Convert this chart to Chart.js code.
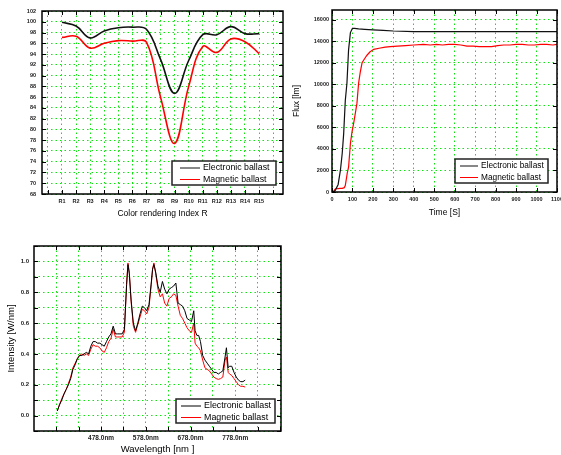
<!DOCTYPE html>
<html>
<head>
<meta charset="utf-8">
<script src="https://cdn.jsdelivr.net/npm/chart.js@4.4.1/dist/chart.umd.min.js"></script>
<style>
body { margin: 0; background: #fff; width: 561px; height: 455px; overflow: hidden; position: relative; }
canvas { position: absolute; }
</style>
</head>
<body>
<canvas id="criChart" width="290" height="220" style="left:0;top:0"></canvas>
<canvas id="fluxChart" width="271" height="220" style="left:290px;top:0"></canvas>
<canvas id="specChart" width="290" height="220" style="left:0;top:235px"></canvas>
<script>
// colour rendering index
const criLabels = ['R1', 'R2', 'R3', 'R4', 'R5', 'R6', 'R7', 'R8', 'R9', 'R10', 'R11', 'R12', 'R13', 'R14', 'R15'];
const criElectronic = [99.9, 99.2, 97.0, 98.3, 98.9, 99.0, 98.6, 93.0, 86.7, 92.8, 97.6, 97.6, 99.1, 97.8, 97.8];
const criMagnetic = [97.1, 97.3, 95.1, 96.0, 96.5, 96.4, 96.2, 86.0, 77.4, 88.0, 95.4, 94.3, 96.8, 96.3, 94.1];

// flux vs time
const timeElectronic = [0, 10, 16, 30, 41, 50, 57, 65, 73, 81, 90, 100, 110, 130, 160, 200, 250, 300, 400, 500, 600, 700, 800, 900, 1000, 1100];
const fluxElectronic = [0, 60, 150, 700, 2000, 3600, 5400, 8500, 10100, 13200, 14800, 15200, 15200, 15150, 15100, 15050, 15000, 14950, 14900, 14900, 14900, 14900, 14900, 14900, 14900, 14900];
const timeMagnetic = [0, 10, 15, 20, 30, 40, 50, 60, 65, 70, 75, 81, 90, 98, 106, 114, 122, 130, 138, 147, 160, 171, 185, 204, 230, 260, 285, 320, 360, 400, 447, 480, 510, 540, 570, 600, 630, 660, 690, 720, 750, 780, 810, 840, 870, 900, 930, 960, 990, 1020, 1050, 1080, 1100];
const fluxMagnetic = [0, 100, 250, 300, 320, 330, 340, 400, 600, 1200, 1800, 2300, 4500, 5600, 6400, 7300, 8250, 10100, 11100, 12000, 12400, 12700, 13000, 13250, 13350, 13450, 13500, 13550, 13600, 13650, 13700, 13650, 13700, 13650, 13700, 13700, 13650, 13550, 13550, 13500, 13500, 13500, 13600, 13650, 13650, 13700, 13700, 13650, 13650, 13700, 13700, 13650, 13700];
const fluxTicks = [0, 2000, 4000, 6000, 8000, 10000, 12000, 14000, 16000];

// spectrum
const wavelength = [380, 385, 390, 395, 400, 405, 410, 415, 420, 425, 430, 435, 440, 445, 450, 455, 460, 465, 470, 475,
  480, 485, 490, 495, 500, 505, 510, 515, 520, 525, 530, 535, 538, 541, 545, 550, 555, 560, 565, 570,
  575, 580, 585, 590, 593, 596, 600, 605, 610, 615, 620, 625, 630, 635, 640, 645, 650, 655, 660, 665,
  670, 675, 680, 685, 688, 692, 696, 700, 705, 710, 715, 720, 725, 730, 735, 740, 745, 750, 755, 758,
  762, 765, 770, 775, 780, 785, 790, 795, 800];
const specElectronic = [0.03, 0.07, 0.10, 0.14, 0.17, 0.20, 0.24, 0.30, 0.33, 0.37, 0.39, 0.39, 0.40, 0.41, 0.40, 0.45, 0.48, 0.48, 0.47, 0.47,
  0.46, 0.45, 0.48, 0.51, 0.53, 0.58, 0.53, 0.53, 0.53, 0.53, 0.56, 0.85, 0.98, 0.92, 0.75, 0.60, 0.55, 0.60, 0.66, 0.71,
  0.70, 0.68, 0.72, 0.86, 0.95, 0.98, 0.93, 0.84, 0.80, 0.87, 0.82, 0.79, 0.82, 0.83, 0.84, 0.86, 0.73, 0.72, 0.71, 0.68,
  0.63, 0.62, 0.61, 0.68, 0.55, 0.52, 0.52, 0.48, 0.39, 0.36, 0.34, 0.32, 0.30, 0.28, 0.28, 0.27, 0.28, 0.29, 0.38, 0.44,
  0.31, 0.32, 0.32, 0.28, 0.25, 0.23, 0.22, 0.22, 0.23];
const specMagnetic = [0.03, 0.07, 0.11, 0.14, 0.17, 0.21, 0.25, 0.31, 0.34, 0.37, 0.39, 0.40, 0.39, 0.40, 0.39, 0.43, 0.46, 0.45, 0.45, 0.44,
  0.42, 0.41, 0.44, 0.48, 0.50, 0.56, 0.51, 0.51, 0.51, 0.51, 0.54, 0.86, 0.99, 0.93, 0.74, 0.58, 0.54, 0.59, 0.64, 0.69,
  0.68, 0.66, 0.70, 0.85, 0.95, 0.99, 0.92, 0.82, 0.77, 0.79, 0.73, 0.71, 0.76, 0.77, 0.79, 0.78, 0.71, 0.65, 0.63, 0.60,
  0.57, 0.55, 0.54, 0.60, 0.47, 0.45, 0.44, 0.42, 0.36, 0.31, 0.30, 0.29, 0.27, 0.25, 0.24, 0.235, 0.24, 0.25, 0.36, 0.38,
  0.28, 0.27, 0.26, 0.24, 0.22, 0.20, 0.19, 0.19, 0.185];
const specGridTicks = [378, 428, 478, 528, 578, 628, 678, 728, 778, 828, 878];
const specLabelTicks = [478, 578, 678, 778];

const FONT = 'Liberation Sans, Arial, sans-serif';
const GREEN = 'rgba(0, 225, 0, 0.95)';

// frame with inward ticks + boxed legend inside the plot
const framePlugin = {
  id: 'frame',
  afterDatasetsDraw(chart, args, opts) {
    const { ctx, chartArea: a, scales } = chart;
    ctx.save();
    ctx.strokeStyle = '#000';
    ctx.lineWidth = 1;
    ctx.beginPath();
    scales.x.ticks.forEach(t => {
      const px = Math.round(scales.x.getPixelForValue(t.value)) + 0.5;
      ctx.moveTo(px, a.bottom); ctx.lineTo(px, a.bottom - 4);
      ctx.moveTo(px, a.top); ctx.lineTo(px, a.top + 4);
    });
    scales.y.ticks.forEach(t => {
      const py = Math.round(scales.y.getPixelForValue(t.value)) + 0.5;
      ctx.moveTo(a.left, py); ctx.lineTo(a.left + 4, py);
      ctx.moveTo(a.right, py); ctx.lineTo(a.right - 4, py);
    });
    ctx.stroke();
    ctx.lineWidth = 1.5;
    ctx.strokeRect(a.left, a.top, a.right - a.left, a.bottom - a.top);

    const L = opts.box;
    if (L) {
      const x0 = a.right - L.right - L.width;
      const y0 = a.bottom - L.bottom - L.height;
      ctx.fillStyle = '#fff';
      ctx.fillRect(x0, y0, L.width, L.height);
      ctx.strokeStyle = '#222';
      ctx.lineWidth = 1.5;
      ctx.strokeRect(x0, y0, L.width, L.height);
      ctx.font = L.fontSize + 'px ' + FONT;
      ctx.textBaseline = 'middle';
      chart.data.datasets.forEach((ds, i) => {
        const y = y0 + 7 + i * 11.5;
        ctx.strokeStyle = ds.borderColor;
        ctx.lineWidth = 1;
        ctx.beginPath();
        ctx.moveTo(x0 + L.lineStart, y); ctx.lineTo(x0 + L.lineEnd, y);
        ctx.stroke();
        ctx.fillStyle = '#000';
        ctx.fillText(ds.label, x0 + L.textX, y);
      });
    }
    ctx.restore();
  }
};

function fixSize(w, h) {
  return function (s) {
    if (w !== null) s.width = w;
    if (h !== null) s.height = h;
    s.paddingLeft = 0; s.paddingRight = 0; s.paddingTop = 0; s.paddingBottom = 0;
  };
}

function tickFont(size) {
  return { family: FONT, size: size, weight: 'bold' };
}

function gridOpts() {
  return { color: GREEN, lineWidth: 1, drawTicks: false };
}

Chart.defaults.font.family = FONT;
Chart.defaults.color = '#222';

// chart 1
new Chart(document.getElementById('criChart'), {
  type: 'line',
  data: {
    datasets: [{
      label: 'Electronic ballast',
      data: criElectronic.map((v, i) => ({ x: i + 1, y: v })),
      borderColor: '#111',
      borderWidth: 1.6,
      tension: 0.4,
      pointRadius: 0,
    }, {
      label: 'Magnetic ballast',
      data: criMagnetic.map((v, i) => ({ x: i + 1, y: v })),
      borderColor: '#ff0000',
      borderWidth: 1.6,
      tension: 0.4,
      pointRadius: 0,
    }]
  },
  options: {
    responsive: false,
    animation: false,
    layout: { padding: { top: 11, right: 7, left: 0, bottom: 0 } },
    plugins: {
      legend: { display: false },
      tooltip: { enabled: false },
      frame: { box: { right: 7, bottom: 9, width: 104, height: 24, fontSize: 8.8, lineStart: 8, lineEnd: 28, textX: 31 } },
    },
    scales: {
      x: {
        type: 'linear',
        min: -0.42,
        max: 16.7,
        afterBuildTicks: s => { s.ticks = [0, 1, 2, 3, 4, 5, 6, 7, 8, 9, 10, 11, 12, 13, 14, 15, 16].map(v => ({ value: v })); },
        afterFit: fixSize(null, 26),
        grid: gridOpts(),
        border: { display: false, dash: [1.5, 3] },
        ticks: {
          autoSkip: false, maxRotation: 0, padding: 4, font: tickFont(5.5),
          callback: v => (v >= 1 && v <= 15) ? criLabels[v - 1] : '',
        },
        title: { display: true, text: 'Color rendering Index R', font: { size: 8.5 }, color: '#000', padding: { top: 0, bottom: 1 } },
      },
      y: {
        min: 68,
        max: 102,
        afterFit: fixSize(42, null),
        grid: gridOpts(),
        border: { display: false, dash: [1.5, 3] },
        ticks: { stepSize: 2, padding: 6, font: tickFont(5.5), callback: v => String(v) },
      }
    }
  },
  plugins: [framePlugin]
});

// chart 2
new Chart(document.getElementById('fluxChart'), {
  type: 'line',
  data: {
    datasets: [{
      label: 'Electronic ballast',
      data: timeElectronic.map((t, i) => ({ x: t, y: fluxElectronic[i] })),
      borderColor: '#111',
      borderWidth: 1.2,
      pointRadius: 0,
    }, {
      label: 'Magnetic ballast',
      data: timeMagnetic.map((t, i) => ({ x: t, y: fluxMagnetic[i] })),
      borderColor: '#ff0000',
      borderWidth: 1.2,
      pointRadius: 0,
    }]
  },
  options: {
    responsive: false,
    animation: false,
    layout: { padding: { top: 10, right: 4, left: 0, bottom: 0 } },
    plugins: {
      legend: { display: false },
      tooltip: { enabled: false },
      frame: { box: { right: 9, bottom: 9, width: 93, height: 24, fontSize: 8.3, lineStart: 5, lineEnd: 23, textX: 26 } },
    },
    scales: {
      x: {
        type: 'linear',
        min: 0,
        max: 1100,
        afterFit: fixSize(null, 28),
        grid: gridOpts(),
        border: { display: false, dash: [1.5, 3] },
        ticks: { stepSize: 100, autoSkip: false, maxRotation: 0, padding: 4, font: tickFont(5.5), callback: v => String(v) },
        title: { display: true, text: 'Time [S]', font: { size: 8.5 }, color: '#000', padding: { top: 0, bottom: 2 } },
      },
      y: {
        min: 0,
        max: 16900,
        afterBuildTicks: s => { s.ticks = fluxTicks.map(v => ({ value: v })); },
        afterFit: fixSize(42, null),
        grid: gridOpts(),
        border: { display: false, dash: [1.5, 3] },
        ticks: { padding: 3, font: tickFont(5.5), callback: v => String(v) },
        title: { display: true, text: 'Flux [lm]', font: { size: 8.5 }, color: '#000', padding: { top: 2, bottom: 0 } },
      }
    }
  },
  plugins: [framePlugin]
});

// chart 3
new Chart(document.getElementById('specChart'), {
  type: 'line',
  data: {
    datasets: [{
      label: 'Electronic ballast',
      data: wavelength.map((w, i) => ({ x: w, y: specElectronic[i] })),
      borderColor: '#000',
      borderWidth: 1,
      pointRadius: 0,
    }, {
      label: 'Magnetic ballast',
      data: wavelength.map((w, i) => ({ x: w, y: specMagnetic[i] })),
      borderColor: '#ff0000',
      borderWidth: 1,
      pointRadius: 0,
    }]
  },
  options: {
    responsive: false,
    animation: false,
    layout: { padding: { top: 11, right: 9, left: 0, bottom: 0 } },
    plugins: {
      legend: { display: false },
      tooltip: { enabled: false },
      frame: { box: { right: 6, bottom: 8, width: 99, height: 24, fontSize: 8.9, lineStart: 5, lineEnd: 25, textX: 28 } },
    },
    scales: {
      x: {
        type: 'linear',
        min: 328,
        max: 880,
        afterBuildTicks: s => { s.ticks = specGridTicks.map(v => ({ value: v })); },
        afterFit: fixSize(null, 24),
        grid: gridOpts(),
        border: { display: false, dash: [1.5, 3] },
        ticks: {
          autoSkip: false, maxRotation: 0, padding: 3, font: tickFont(6.5),
          callback: v => specLabelTicks.includes(v) ? v.toFixed(1) + 'nm' : '',
        },
        title: { display: true, text: 'Wavelength [nm ]', font: { size: 9.5 }, color: '#000', padding: { top: 0, bottom: 0 } },
      },
      y: {
        min: -0.1,
        max: 1.1,
        afterFit: fixSize(34, null),
        grid: gridOpts(),
        border: { display: false, dash: [1.5, 3] },
        ticks: {
          stepSize: 0.1, padding: 5, font: tickFont(6),
          callback: v => { const r = Math.round(v * 10); return (r >= 0 && r <= 10 && r % 2 === 0) ? (r / 10).toFixed(1) : ''; },
        },
        title: { display: true, text: 'Intensity [W/nm]', font: { size: 9.5 }, color: '#000', padding: { top: 6, bottom: 0 } },
      }
    }
  },
  plugins: [framePlugin]
});
</script>
</body>
</html>
